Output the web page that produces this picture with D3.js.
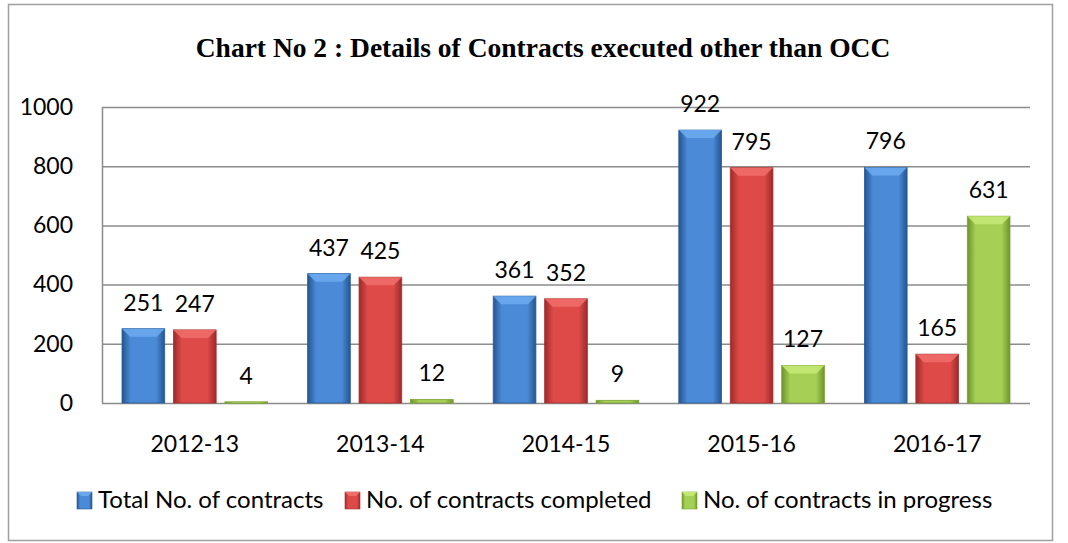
<!DOCTYPE html>
<html>
<head>
<meta charset="utf-8">
<script src="https://cdn.jsdelivr.net/npm/d3@7"></script>
<style>
  body { margin: 0; background: #fff; }
  svg { display: block; }
</style>
</head>
<body>
<div id="chart"></div>
<script>
// ------------------------------
// DONNEES
// ------------------------------
const years = ["2012-13", "2013-14", "2014-15", "2015-16", "2016-17"];
const seriesNames = ["Total No. of contracts", "No. of contracts completed", "No. of contracts in progress"];
const totalContracts = [251, 437, 361, 922, 796];
const completedContracts = [247, 425, 352, 795, 165];
const inProgressContracts = [4, 12, 9, 127, 631];
const yTicks = [0, 200, 400, 600, 800, 1000];
const chartTitle = "Chart No 2 : Details of Contracts executed other than OCC";

const seriesValues = [totalContracts, completedContracts, inProgressContracts];
const palette = [
  { edge: "#24558f", mid: "#4a8ad6", top: "#6aa8ee", line: "#2a5d9a" },
  { edge: "#9c2a2a", mid: "#dd4a48", top: "#f06d69", line: "#a73331" },
  { edge: "#6e9428", mid: "#a5cf55", top: "#c4e874", line: "#7ea335" }
];

const W = 1068, H = 543;
const margin = { left: 102, right: 38, top: 107, bottom: 140 };
const FONT = "Lato, 'Open Sans', sans-serif";

const svg = d3.select("#chart").append("svg")
  .attr("width", W).attr("height", H);

// gradients
const defs = svg.append("defs");
palette.forEach((c, i) => {
  const g = defs.append("linearGradient").attr("id", "grad" + i)
    .attr("x1", "0").attr("x2", "1").attr("y1", "0").attr("y2", "0");
  g.append("stop").attr("offset", "0").attr("stop-color", c.edge);
  g.append("stop").attr("offset", "0.2").attr("stop-color", c.mid);
  g.append("stop").attr("offset", "0.8").attr("stop-color", c.mid);
  g.append("stop").attr("offset", "1").attr("stop-color", c.edge);
});

// outer border
svg.append("rect")
  .attr("x", 8.5).attr("y", 4.5).attr("width", 1044).attr("height", 536)
  .attr("fill", "#fff").attr("stroke", "#a0a0a0").attr("stroke-width", 1.5);

// title
svg.append("text")
  .attr("x", 543).attr("y", 57)
  .attr("text-anchor", "middle")
  .attr("font-family", "'Liberation Serif', 'Times New Roman', serif")
  .attr("font-weight", "bold")
  .attr("font-size", 27.5)
  .text(chartTitle);

// ------------------------------
// ECHELLES
// ------------------------------
const x0 = d3.scaleBand().domain(years)
  .range([margin.left, W - margin.right]).paddingInner(0).paddingOuter(0);
const x1 = d3.scaleBand().domain(d3.range(seriesNames.length))
  .range([20, x0.bandwidth() - 20]).paddingInner(0.17);
const y = d3.scaleLinear().domain([0, 1000]).range([H - margin.bottom, margin.top]);

// grid
svg.append("g").selectAll("line").data(yTicks).enter().append("line")
  .attr("x1", margin.left).attr("x2", W - margin.right)
  .attr("y1", d => y(d) + 0.5).attr("y2", d => y(d) + 0.5)
  .attr("stroke", "#8c8c8c").attr("stroke-width", 1.5);

svg.append("line")
  .attr("x1", margin.left + 0.5).attr("x2", margin.left + 0.5)
  .attr("y1", y(1000)).attr("y2", y(0))
  .attr("stroke", "#8c8c8c").attr("stroke-width", 1.5);

// axe Y
const yAxis = d3.axisLeft(y).tickValues(yTicks).tickFormat(d3.format("d")).tickSize(0).tickPadding(29);
const yg = svg.append("g").attr("transform", `translate(${margin.left},0)`).call(yAxis);
yg.select(".domain").remove();
yg.selectAll("text")
  .attr("font-family", FONT)
  .attr("font-size", 23).attr("fill", "#000");

// axe X
const xAxis = d3.axisBottom(x0).tickSize(0).tickPadding(33);
const xg = svg.append("g").attr("transform", `translate(0,${y(0)})`).call(xAxis);
xg.select(".domain").remove();
xg.selectAll("text")
  .attr("font-family", FONT)
  .attr("font-size", 23).attr("fill", "#000");

// ------------------------------
// BARRES 3D
// ------------------------------
const bevel = 8;
const rows = [];
years.forEach((yr, i) => {
  seriesValues.forEach((vals, s) => rows.push({ yr, s, v: vals[i] }));
});

const bars = svg.append("g").selectAll("g.bar").data(rows).enter().append("g").attr("class", "bar");

bars.append("rect")
  .attr("x", d => x0(d.yr) + x1(d.s))
  .attr("y", d => y(d.v))
  .attr("width", x1.bandwidth())
  .attr("height", d => Math.max(1.5, y(0) - y(d.v)))
  .attr("fill", d => `url(#grad${d.s})`)
  .attr("stroke", d => palette[d.s].line).attr("stroke-width", 0.8);

bars.filter(d => y(0) - y(d.v) > bevel + 2).append("polygon")
  .attr("points", d => {
    const xl = x0(d.yr) + x1(d.s), xr = xl + x1.bandwidth(), yt = y(d.v);
    return [[xl, yt], [xr, yt], [xr - bevel, yt + bevel], [xl + bevel, yt + bevel]].map(p => p.join(",")).join(" ");
  })
  .attr("fill", d => palette[d.s].top).attr("opacity", 0.9);

// etiquettes valeurs
bars.append("text")
  .attr("x", d => x0(d.yr) + x1(d.s) + x1.bandwidth() / 2)
  .attr("y", d => y(d.v) - 18)
  .attr("text-anchor", "middle")
  .attr("font-family", FONT)
  .attr("font-size", 23).attr("fill", "#000")
  .text(d => d.v);

// ------------------------------
// LEGENDE
// ------------------------------
const legendX = [77, 345, 682];
const leg = svg.append("g").selectAll("g").data(seriesNames).enter().append("g")
  .attr("transform", (d, i) => `translate(${legendX[i]},492)`);
leg.append("rect").attr("width", 15).attr("height", 17)
  .attr("fill", (d, i) => `url(#grad${i})`)
  .attr("stroke", (d, i) => palette[i].line).attr("stroke-width", 0.6);
leg.append("polygon").attr("points", "0,0 15,0 11,4 4,4")
  .attr("fill", (d, i) => palette[i].top);
leg.append("text").attr("x", 21).attr("y", 16)
  .attr("font-family", FONT)
  .attr("font-size", 24).attr("fill", "#000")
  .text(d => d);
</script>
</body>
</html>
